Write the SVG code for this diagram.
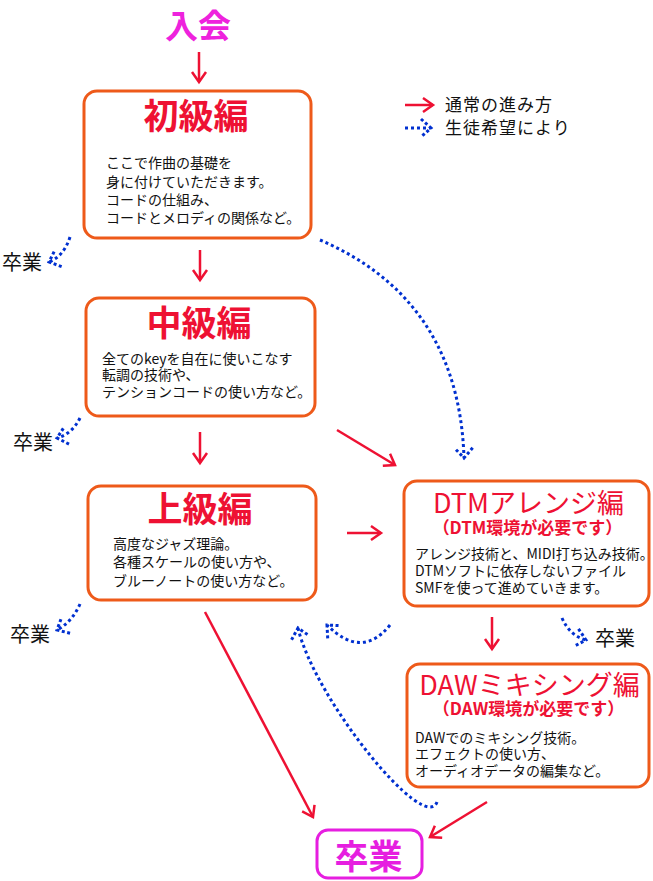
<svg xmlns="http://www.w3.org/2000/svg" width="653" height="881" viewBox="0 0 653 881">
<style>
text{font-family:"Noto Sans CJK JP","Noto Sans",sans-serif;}
.box{fill:#fff;stroke:#ee5a1a;stroke-width:3;}
.goal{fill:#fff;stroke:#e61ee0;stroke-width:3;}
.ttl{fill:#ee1133;font-weight:bold;font-size:35px;text-anchor:middle;}
.ttl2{fill:#ee1133;font-size:27px;}
.sub{fill:#ee1133;font-weight:bold;font-size:17px;}
.body{fill:#111;font-size:14px;}
.grad{fill:#111;font-size:20px;}
.leg{fill:#111;font-size:17px;letter-spacing:1px;}
.red{fill:none;stroke:#ee1133;stroke-width:2.5;marker-end:url(#ah);}
.dot{fill:none;stroke:#0030d0;stroke-width:3;stroke-dasharray:3 3;marker-end:url(#dh);}
</style>
<defs>
<marker id="ah" markerUnits="userSpaceOnUse" markerWidth="16" markerHeight="18" refX="12" refY="8" orient="auto" overflow="visible">
<path d="M2,1 L12,8 L2,15" fill="none" stroke="#ee1133" stroke-width="2.5"/>
</marker>
<marker id="dh" markerUnits="userSpaceOnUse" markerWidth="16" markerHeight="20" refX="12" refY="9" orient="auto" overflow="visible">
<path d="M2,0 L12,9 L2,18" fill="none" stroke="#0030d0" stroke-width="3" stroke-dasharray="3 2.5"/>
</marker>
</defs>
<rect width="653" height="881" fill="#fff"/>

<g id="start">
<text x="198" y="37.5" font-size="33" font-weight="bold" fill="#ee22dd" text-anchor="middle">入会</text>
</g>

<g id="legend">
<path class="red" d="M405,105 L433,105"/>
<text class="leg" x="445" y="111">通常の進み方</text>
<path class="dot" d="M405,128 L431,128"/>
<text class="leg" x="445" y="134">生徒希望により</text>
</g>

<g id="shokyu">
<rect class="box" x="84" y="91" width="227" height="147" rx="13"/>
<text class="ttl" x="196" y="129">初級編</text>
<text class="body"><tspan x="106" y="168">ここで作曲の基礎を</tspan><tspan x="106" y="187">身に付けていただきます。</tspan><tspan x="106" y="205">コードの仕組み、</tspan><tspan x="106" y="223">コードとメロディの関係など。</tspan></text>
</g>

<g id="chukyu">
<rect class="box" x="86" y="298" width="229" height="118" rx="13"/>
<text class="ttl" x="199" y="336">中級編</text>
<text class="body"><tspan x="102" y="364">全てのkeyを自在に使いこなす</tspan><tspan x="102" y="380">転調の技術や、</tspan><tspan x="102" y="397">テンションコードの使い方など。</tspan></text>
</g>

<g id="jokyu">
<rect class="box" x="88" y="486" width="228" height="114" rx="13"/>
<text class="ttl" x="200" y="522">上級編</text>
<text class="body"><tspan x="113" y="549">高度なジャズ理論。</tspan><tspan x="113" y="567">各種スケールの使い方や、</tspan><tspan x="113" y="586">ブルーノートの使い方など。</tspan></text>
</g>

<g id="dtm">
<rect class="box" x="404" y="481" width="245" height="125" rx="13"/>
<text text-anchor="middle"><tspan class="ttl2" x="528.5" y="513">DTMアレンジ編</tspan><tspan class="sub" x="527.5" y="533.5">（DTM環境が必要です）</tspan></text>
<text class="body"><tspan x="415" y="559">アレンジ技術と、MIDI打ち込み技術。</tspan><tspan x="415" y="576">DTMソフトに依存しないファイル</tspan><tspan x="415" y="592.5">SMFを使って進めていきます。</tspan></text>
</g>

<g id="daw">
<rect class="box" x="407" y="664" width="242" height="123" rx="13"/>
<text text-anchor="middle"><tspan class="ttl2" x="529.5" y="695" font-size="26.5">DAWミキシング編</tspan><tspan class="sub" x="528.5" y="715">（DAW環境が必要です）</tspan></text>
<text class="body"><tspan x="415" y="742.5">DAWでのミキシング技術。</tspan><tspan x="415" y="759">エフェクトの使い方、</tspan><tspan x="415" y="776">オーディオデータの編集など。</tspan></text>
</g>

<g id="sotsugyo">
<rect class="goal" x="317" y="830" width="105" height="48" rx="11"/>
<text x="368.5" y="869" font-size="34" font-weight="bold" fill="#e61ee0" text-anchor="middle">卒業</text>
</g>

<g id="exit1"><text class="grad" x="2" y="270">卒業</text></g>
<g id="exit2"><text class="grad" x="13" y="450">卒業</text></g>
<g id="exit3"><text class="grad" x="10" y="642">卒業</text></g>
<g id="exit4"><text class="grad" x="595" y="646">卒業</text></g>

<g id="connectors">
<path class="red" d="M199,52 L199,82"/>
<path class="red" d="M200,250 L200,280"/>
<path class="red" d="M200,432 L200,463"/>
<path class="red" d="M337,430 L395,465"/>
<path class="red" d="M347,533 L381,533"/>
<path class="red" d="M205,612 L313,817"/>
<path class="red" d="M492,617 L492,649"/>
<path class="red" d="M487,802 L430,837"/>
<path class="dot" d="M320,240 C390,270 460,330 464,458"/>
<path class="dot" d="M70,237 Q64,256 49,262"/>
<path class="dot" d="M80,418 Q72,434 57,438"/>
<path class="dot" d="M80,604 Q72,622 57,630"/>
<path class="dot" d="M562,618 Q570,636 586,640"/>
<path class="dot" d="M390,625 Q362,660 327,625"/>
<path class="dot" d="M437,802 C425,835 315,700 298,628"/>
</g>
</svg>
